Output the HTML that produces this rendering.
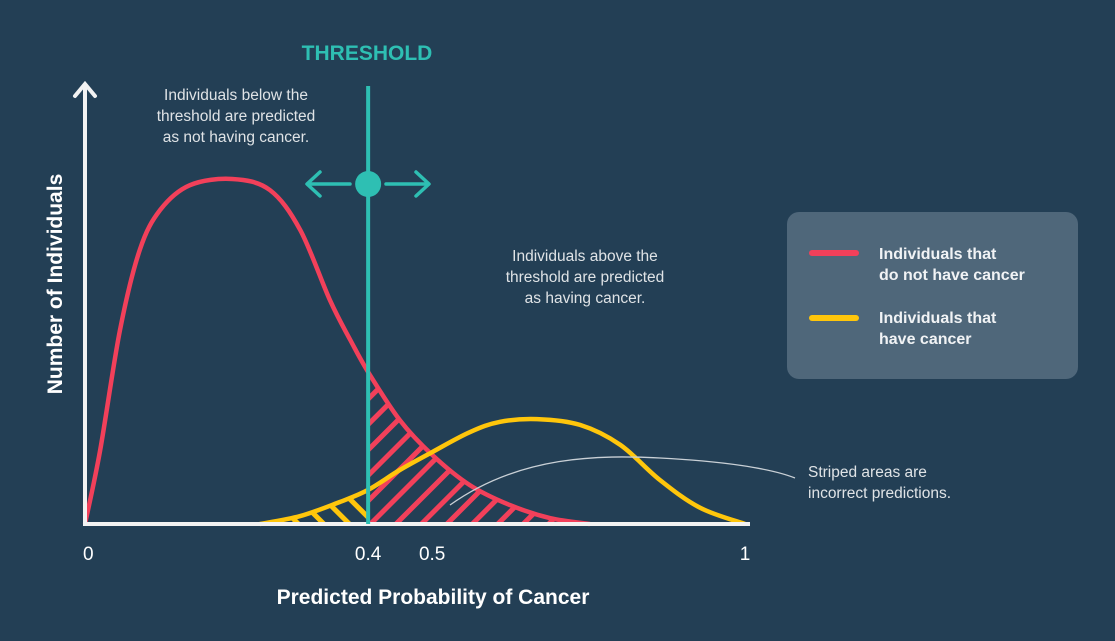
<!DOCTYPE html>
<html><head><meta charset="utf-8"><style>
html,body{margin:0;padding:0;background:#233f55;}
svg{display:block;font-family:"Liberation Sans",sans-serif;}
</style></head><body>
<svg id="chart" width="1115" height="641" viewBox="0 0 1115 641">
<defs>
<pattern id="hatchRed" patternUnits="userSpaceOnUse" width="18" height="18" patternTransform="rotate(45)">
<rect x="0" y="0" width="5" height="18" fill="#f2405a"/>
</pattern>
<pattern id="hatchYel" patternUnits="userSpaceOnUse" width="18" height="18" patternTransform="rotate(-45)">
<rect x="0" y="0" width="5" height="18" fill="#ffc60b"/>
</pattern>
<clipPath id="clipRed"><path id="clipRedPath" d=""/></clipPath>
<clipPath id="clipYel"><path id="clipYelPath" d=""/></clipPath>
</defs>
<rect width="1115" height="641" fill="#233f55"/>
<g id="hatches"></g>
<g id="curves"></g>
<path d="M450,505 C520,455 600,455 660,458 C720,461 770,468 795,478" fill="none" stroke="#c9d0d6" stroke-width="1.3"/>
<line x1="85" y1="524" x2="85" y2="86" stroke="#f2f2f2" stroke-width="4"/>
<path d="M75,96 L85,84 L95,96" fill="none" stroke="#f2f2f2" stroke-width="4" stroke-linecap="round"/>
<line x1="83" y1="524" x2="750" y2="524" stroke="#f2f2f2" stroke-width="4"/>
<g id="threshold-group">
<line id="thrLine" x1="368" y1="86" x2="368" y2="524" stroke="#2ebfb3" stroke-width="4"/>
<circle id="thrDot" cx="368" cy="184" r="13" fill="#2ebfb3"/>
<path d="M350,184 H308 M320,172 L307,184 L320,196" fill="none" stroke="#2ebfb3" stroke-width="3.5" stroke-linecap="round" stroke-linejoin="round"/>
<path d="M386,184 H428 M416,172 L429,184 L416,196" fill="none" stroke="#2ebfb3" stroke-width="3.5" stroke-linecap="round" stroke-linejoin="round"/>
</g>
<text x="367" y="60" text-anchor="middle" fill="#2ebfb3" font-size="21" font-weight="bold">THRESHOLD</text>
<g fill="#dfe3e6" font-size="15.5" text-anchor="middle">
<text x="236" y="100">Individuals below the</text>
<text x="236" y="121">threshold are predicted</text>
<text x="236" y="142">as not having cancer.</text>
</g>
<g fill="#dfe3e6" font-size="15.5" text-anchor="middle">
<text x="585" y="261">Individuals above the</text>
<text x="585" y="282">threshold are predicted</text>
<text x="585" y="303">as having cancer.</text>
</g>
<g fill="#dfe3e6" font-size="15.5">
<text x="808" y="477">Striped areas are</text>
<text x="808" y="498">incorrect predictions.</text>
</g>
<g id="ticks" fill="#ffffff" font-size="19" text-anchor="middle"></g>
<text x="433" y="604" text-anchor="middle" fill="#ffffff" font-size="21" font-weight="bold">Predicted Probability of Cancer</text>
<text transform="translate(62,284) rotate(-90)" text-anchor="middle" fill="#ffffff" font-size="21" font-weight="bold">Number of Individuals</text>
<g>
<rect x="787" y="212" width="291" height="167" rx="12" fill="#4f677a"/>
<g>
<line x1="812" y1="253" x2="856" y2="253" stroke="#f2405a" stroke-width="6" stroke-linecap="round"/>
<text x="879" y="259" fill="#f1f3f5" font-size="16" font-weight="bold">Individuals that</text>
<text x="879" y="280" fill="#f1f3f5" font-size="16" font-weight="bold">do not have cancer</text>
</g>
<g>
<line x1="812" y1="318" x2="856" y2="318" stroke="#ffc60b" stroke-width="6" stroke-linecap="round"/>
<text x="879" y="323" fill="#f1f3f5" font-size="16" font-weight="bold">Individuals that</text>
<text x="879" y="344" fill="#f1f3f5" font-size="16" font-weight="bold">have cancer</text>
</g>
</g>
</svg>
<script>
const noCancerX = [0, .023, .053, .083, .114, .159, .223, .280, .326, .371, .402, .429, .477, .526, .583, .644, .705, .765];
const noCancerY = [0, 21.5, 56.4, 79.7, 91.3, 98.5, 100.3, 97.1, 85.5, 65.1, 53.5, 44.2, 30.2, 20.1, 11.3, 5.5, 1.7, 0];
const cancerX = [.265, .326, .386, .429, .477, .526, .583, .629, .685, .750, .811, .871, .932, 1];
const cancerY = [0, 2.3, 6.4, 9.9, 15.7, 20.9, 26.7, 29.7, 30.5, 28.8, 23.0, 12.8, 4.7, 0];
const threshold = 0.429;
const tickValues = [0.005, 0.429, 0.526, 1];
const tickLabels = ["0", "0.4", "0.5", "1"];

const X0 = 85, X1 = 745, Y0 = 524, YS = 3.44;
function xScale(v){ return X0 + v * (X1 - X0); }
function yScale(c){ return Y0 - c * YS; }
const NS = "http://www.w3.org/2000/svg";

function smoothPath(xs, ys){
  const p = xs.map((x,i)=>[xScale(x), yScale(ys[i])]);
  let d = "M" + p[0][0].toFixed(1) + "," + p[0][1].toFixed(1);
  for (let i=0;i<p.length-1;i++){
    const p0=p[Math.max(0,i-1)], p1=p[i], p2=p[i+1], p3=p[Math.min(p.length-1,i+2)];
    const c1=[p1[0]+(p2[0]-p0[0])/6, p1[1]+(p2[1]-p0[1])/6];
    const c2=[p2[0]-(p3[0]-p1[0])/6, p2[1]-(p3[1]-p1[1])/6];
    d += " C"+c1[0].toFixed(1)+","+c1[1].toFixed(1)+" "+c2[0].toFixed(1)+","+c2[1].toFixed(1)+" "+p2[0].toFixed(1)+","+p2[1].toFixed(1);
  }
  return d;
}
const redD = smoothPath(noCancerX, noCancerY);
const yelD = smoothPath(cancerX, cancerY);
const tx = xScale(threshold);

document.getElementById('clipRedPath').setAttribute('d', redD + " L" + xScale(noCancerX[0]) + "," + Y0 + " Z");
document.getElementById('clipYelPath').setAttribute('d', yelD + " Z");

const hatches = document.getElementById('hatches');
const rh = document.createElementNS(NS,'rect');
rh.setAttribute('x', tx); rh.setAttribute('y', 0); rh.setAttribute('width', 1115 - tx); rh.setAttribute('height', Y0);
rh.setAttribute('fill','url(#hatchRed)'); rh.setAttribute('clip-path','url(#clipRed)');


hatches.appendChild(rh);
const yh = document.createElementNS(NS,'rect');
yh.setAttribute('x', 0); yh.setAttribute('y', 0); yh.setAttribute('width', tx); yh.setAttribute('height', Y0);
yh.setAttribute('fill','url(#hatchYel)'); yh.setAttribute('clip-path','url(#clipYel)');


hatches.appendChild(yh);

const curves = document.getElementById('curves');
const rp = document.createElementNS(NS,'path');
rp.setAttribute('d', redD); rp.setAttribute('fill','none'); rp.setAttribute('stroke','#f2405a'); rp.setAttribute('stroke-width','4.5');


curves.appendChild(rp);
const yp = document.createElementNS(NS,'path');
yp.setAttribute('d', yelD); yp.setAttribute('fill','none'); yp.setAttribute('stroke','#ffc60b'); yp.setAttribute('stroke-width','4.5');


curves.appendChild(yp);

const tl = document.getElementById('thrLine');
tl.setAttribute('x1', tx); tl.setAttribute('x2', tx);
document.getElementById('thrDot').setAttribute('cx', tx);

const ticks = document.getElementById('ticks');
tickValues.forEach((v,i)=>{
  const t = document.createElementNS(NS,'text');
  t.setAttribute('x', xScale(v)); t.setAttribute('y', 560);
  t.textContent = tickLabels[i];
  
  
  ticks.appendChild(t);
});
</script>
</body></html>
